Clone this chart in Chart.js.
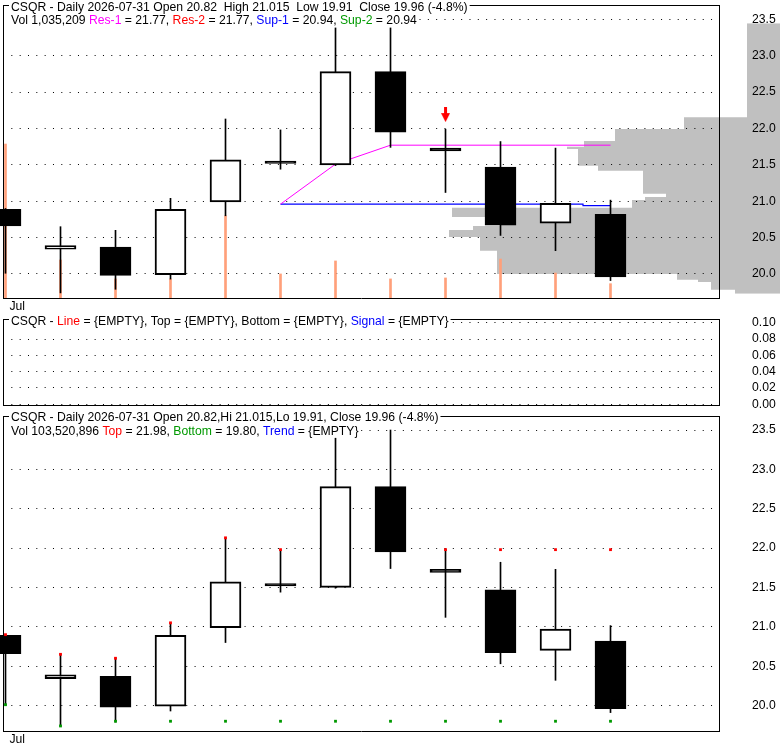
<!DOCTYPE html>
<html>
<head>
<meta charset="UTF-8">
<title>CSQR - Daily</title>
<script src="https://cdn.jsdelivr.net/npm/chart.js"></script>
<style>
  body { margin: 0; background: #fff; width: 780px; height: 745px; overflow: hidden; }
  canvas { position: absolute; left: 0; }
</style>
</head>
<body>
<canvas id="profileChart" width="780" height="312" style="top:0"></canvas>
<canvas id="priceChart" width="780" height="312" style="top:0"></canvas>
<canvas id="lineChart" width="780" height="100" style="top:312px"></canvas>
<canvas id="trendChart" width="780" height="333" style="top:412px"></canvas>

<script>
// daily bars
const days = ['2026-07-16', '2026-07-17', '2026-07-20', '2026-07-21', '2026-07-22', '2026-07-23',
              '2026-07-24', '2026-07-27', '2026-07-28', '2026-07-29', '2026-07-30', '2026-07-31'];
const openP  = [20.89, 20.34, 20.37, 19.99, 20.99, 21.55, 21.50, 22.78, 21.73, 21.47, 20.70, 20.82];
const highP  = [20.90, 20.65, 20.60, 21.04, 22.13, 21.98, 23.42, 23.50, 21.99, 21.82, 21.73, 21.015];
const lowP   = [20.01, 19.74, 19.79, 19.93, 20.80, 21.44, 21.49, 21.74, 21.12, 20.53, 20.32, 19.91];
const closeP = [20.66, 20.39, 19.98, 20.89, 21.57, 21.52, 22.78, 21.95, 21.69, 20.67, 20.97, 19.96];
const volume = [11140000, 2750000, 1380000, 1380000, 5950000, 1740000, 2680000, 1380000, 1450000, 2820000, 1810000, 1035209];

// support / resistance lines (top panel)
const res1 = [null, null, null, null, null, 20.96, 21.51, 21.77, 21.77, 21.77, 21.77, 21.77];
const sup1 = [null, null, null, null, null, 20.96, 20.96, 20.96, 20.96, 20.96, 20.96, 20.94];
const sellArrow = [null, null, null, null, null, null, null, null, 22.19, null, null, null];

// top / bottom markers (bottom panel)
const topLine    = [20.90, 20.65, 20.60, 21.05, 22.13, 21.98, null, null, 21.98, 21.98, 21.98, 21.98];
const bottomLine = [20.01, 19.74, 19.80, 19.80, 19.80, 19.80, 19.80, 19.80, 19.80, 19.80, 19.80, 19.80];

// volume at price, bands between edges (relative units)
const profileEdges = [23.446, 22.153, 21.993, 21.828, 21.749, 21.718, 21.488, 21.420, 21.103, 21.058, 21.017,
                      20.911, 20.783, 20.660, 20.605, 20.508, 20.320, 20.000, 19.922, 19.890, 19.784, 19.729];
const profileVol = [33, 96, 165, 196, 213, 202, 182, 137, 114, 135, 148, 328, 280, 307, 331, 300, 283, 103, 82, 69, 45];

const priceTicks = [20.0, 20.5, 21.0, 21.5, 22.0, 22.5, 23.0, 23.5];
const lineTicks = [0, 0.02, 0.04, 0.06, 0.08, 0.10];
const monthLabel = 'Jul';

const X_MIN = -0.04545, X_MAX = 12.9727;
const VOL_MAX = 21200000;
const FONT_SIZE = 12.2;

Chart.defaults.font.family = '"Liberation Sans", Arial, Helvetica, sans-serif';
Chart.defaults.font.size = FONT_SIZE;
Chart.defaults.color = '#000';
Chart.defaults.animation = false;
Chart.defaults.plugins.legend.display = false;
Chart.defaults.plugins.tooltip.enabled = false;

const pts = arr => arr.map((v, i) => ({ x: i, y: v }));
const noPad = s => { s.paddingTop = s.paddingBottom = s.paddingLeft = s.paddingRight = 0; };

// text rows in the panel corner, on a white strip
const panelText = {
  id: 'panelText',
  afterDraw(chart, args, opts) {
    const ctx = chart.ctx;
    ctx.save();
    ctx.font = FONT_SIZE + 'px ' + Chart.defaults.font.family;
    ctx.textBaseline = 'middle';
    opts.rows.forEach((row, r) => {
      const y = opts.top + r * 13.8;
      let x = 11;
      const w = row.reduce((s, p) => s + ctx.measureText(p[0]).width, 0);
      ctx.fillStyle = '#fff';
      ctx.fillRect(x - 2, y - 6.5, w + 4, 13);
      row.forEach(([t, c]) => {
        ctx.fillStyle = c;
        ctx.fillText(t, x, y);
        x += ctx.measureText(t).width;
      });
    });
    ctx.restore();
  }
};

function xAxis(showLabel, h) {
  return {
    type: 'linear', position: 'bottom', min: X_MIN, max: X_MAX, offset: false,
    grid: { display: false, drawTicks: false, offset: false },
    border: { display: true, color: '#000', width: 1 },
    afterBuildTicks: s => { s.ticks = [{ value: 0 }]; },
    ticks: { display: showLabel, autoSkip: false, maxRotation: 0, align: 'start', padding: 1, labelOffset: 4,
             callback: () => monthLabel },
    afterFit: s => { s.height = h; noPad(s); }
  };
}

function valueAxis(min, max, ticks, digits) {
  return {
    type: 'linear', position: 'right', min: min, max: max,
    afterBuildTicks: s => { s.ticks = ticks.map(v => ({ value: v })); },
    ticks: { padding: 33, autoSkip: false, callback: v => v.toFixed(digits) },
    grid: { color: '#000', lineWidth: 1, drawTicks: false },
    border: { display: true, color: '#000', width: 1, dash: [1, 7.33] },
    afterFit: s => { s.width = 61; noPad(s); }
  };
}

// top and left edges of the panel frame
function frameAxis(pos) {
  return {
    type: 'linear', position: pos, min: 0, max: 1, offset: false,
    ticks: { display: false },
    grid: { display: false, drawTicks: false },
    border: { display: true, color: '#000', width: 1 },
    afterFit: s => { if (pos === 'top') s.height = 0; else s.width = 0; noPad(s); }
  };
}

function candleSets() {
  return [{
    type: 'bar', label: 'wick', order: 3, grouped: false, clip: false,
    data: days.map((d, i) => ({ x: i, y: [lowP[i], highP[i]] })),
    backgroundColor: '#000', barThickness: 1, maxBarThickness: 1,
    xAxisID: 'x', yAxisID: 'y'
  }, {
    type: 'bar', label: 'CSQR', order: 2, grouped: false, clip: false,
    data: days.map((d, i) => ({ x: i, y: [openP[i], closeP[i]] })),
    backgroundColor: days.map((d, i) => closeP[i] < openP[i] ? '#000' : '#fff'),
    borderColor: '#000', borderWidth: 2, borderSkipped: false,
    barThickness: 31, maxBarThickness: 31,
    xAxisID: 'x', yAxisID: 'y'
  }];
}

// red sell arrow as point image
const arrowImg = document.createElement('canvas');
arrowImg.width = 9; arrowImg.height = 15;
const ac = arrowImg.getContext('2d');
ac.fillStyle = '#ff0000';
ac.fillRect(3, 0, 3, 7);
ac.beginPath(); ac.moveTo(0, 6); ac.lineTo(9, 6); ac.lineTo(4.5, 15); ac.closePath(); ac.fill();

// volume profile, behind the price panel
new Chart(document.getElementById('profileChart'), {
  type: 'line',
  data: {
    datasets: [{
      data: profileVol.flatMap((v, k) => [{ x: v, y: profileEdges[k] }, { x: v, y: profileEdges[k + 1] }]),
      indexAxis: 'y',
      fill: { value: 0 },
      backgroundColor: '#c0c0c0',
      borderColor: 'rgba(0,0,0,0)',
      borderWidth: 0,
      pointRadius: 0,
      tension: 0
    }]
  },
  options: {
    indexAxis: 'y',
    responsive: false,
    events: [],
    layout: { autoPadding: false, padding: { left: 3, top: 5, right: 0, bottom: 14 } },
    scales: {
      x: { type: 'linear', reverse: true, min: 0, max: 777, display: false },
      y: { type: 'linear', min: 19.670, max: 23.6965, display: false }
    }
  }
});

// price panel
new Chart(document.getElementById('priceChart'), {
  data: {
    datasets: [
      {
        type: 'bar', label: 'Vol', order: 6, grouped: false,
        data: pts(volume), backgroundColor: '#ffa07a',
        barThickness: 2, maxBarThickness: 2,
        xAxisID: 'x', yAxisID: 'yVol'
      },
      {
        type: 'line', label: 'Res-1', order: 5, data: pts(res1),
        borderColor: '#ff00ff', borderWidth: 1, pointRadius: 0, fill: false,
        xAxisID: 'x', yAxisID: 'y'
      },
      {
        type: 'line', label: 'Sup-1', order: 5, data: pts(sup1),
        borderColor: '#0000ff', borderWidth: 1.2, pointRadius: 0, fill: false, stepped: 'middle',
        xAxisID: 'x', yAxisID: 'y'
      },
      ...candleSets(),
      {
        type: 'line', label: 'Sell', order: 1, data: pts(sellArrow), showLine: false,
        pointStyle: arrowImg, pointRadius: 5,
        xAxisID: 'x', yAxisID: 'y'
      }
    ]
  },
  options: {
    responsive: false,
    events: [],
    layout: { autoPadding: false, padding: { left: 3, top: 5, right: 0, bottom: 0 } },
    scales: {
      x: xAxis(true, 14),
      y: valueAxis(19.670, 23.6965, priceTicks, 1),
      yVol: { type: 'linear', display: false, min: 0, max: VOL_MAX },
      frameTop: frameAxis('top'),
      frameLeft: frameAxis('left')
    },
    plugins: {
      panelText: {
        top: 7.3,
        rows: [
          [['CSQR - Daily 2026-07-31 Open 20.82  High 21.015  Low 19.91  Close 19.96 (-4.8%)', '#000']],
          [['Vol 1,035,209 ', '#000'], ['Res-1', '#ff00ff'], [' = 21.77, ', '#000'], ['Res-2', '#ff0000'],
           [' = 21.77, ', '#000'], ['Sup-1', '#0000ff'], [' = 20.94, ', '#000'], ['Sup-2', '#009900'],
           [' = 20.94', '#000']]
        ]
      }
    }
  },
  plugins: [panelText]
});

// indicator panel (no values)
const emptySeries = days.map(() => null);
new Chart(document.getElementById('lineChart'), {
  data: {
    datasets: ['Line', 'Top', 'Bottom', 'Signal'].map(name => ({
      type: 'line', label: name, data: pts(emptySeries), pointRadius: 0, xAxisID: 'x', yAxisID: 'y'
    }))
  },
  options: {
    responsive: false,
    events: [],
    layout: { autoPadding: false, padding: { left: 3, top: 7, right: 0, bottom: 0 } },
    scales: {
      x: xAxis(false, 7),
      y: valueAxis(-0.00086, 0.10453, lineTicks, 2),
      frameTop: frameAxis('top'),
      frameLeft: frameAxis('left')
    },
    plugins: {
      panelText: {
        top: 9.6,
        rows: [
          [['CSQR - ', '#000'], ['Line', '#ff0000'], [' = {EMPTY}, Top = {EMPTY}, Bottom = {EMPTY}, ', '#000'],
           ['Signal', '#0000ff'], [' = {EMPTY}', '#000']]
        ]
      }
    }
  },
  plugins: [panelText]
});

// trend panel
new Chart(document.getElementById('trendChart'), {
  data: {
    datasets: [
      ...candleSets(),
      {
        type: 'line', label: 'Top', order: 1, data: pts(topLine), showLine: false,
        pointStyle: 'rect', pointRadius: 2, borderWidth: 0, backgroundColor: '#ff0000',
        xAxisID: 'x', yAxisID: 'y'
      },
      {
        type: 'line', label: 'Bottom', order: 1, data: pts(bottomLine), showLine: false,
        pointStyle: 'rect', pointRadius: 2, borderWidth: 0, backgroundColor: '#009900',
        xAxisID: 'x', yAxisID: 'y'
      }
    ]
  },
  options: {
    responsive: false,
    events: [],
    layout: { autoPadding: false, padding: { left: 3, top: 4, right: 0, bottom: 0 } },
    scales: {
      x: xAxis(true, 14),
      y: valueAxis(19.676, 23.678, priceTicks, 1),
      frameTop: frameAxis('top'),
      frameLeft: frameAxis('left')
    },
    plugins: {
      panelText: {
        top: 5.6,
        rows: [
          [['CSQR - Daily 2026-07-31 Open 20.82,Hi 21.015,Lo 19.91, Close 19.96 (-4.8%)', '#000']],
          [['Vol 103,520,896 ', '#000'], ['Top', '#ff0000'], [' = 21.98, ', '#000'], ['Bottom', '#009900'],
           [' = 19.80, ', '#000'], ['Trend', '#0000ff'], [' = {EMPTY}', '#000']]
        ]
      }
    }
  },
  plugins: [panelText]
});
</script>
</body>
</html>
